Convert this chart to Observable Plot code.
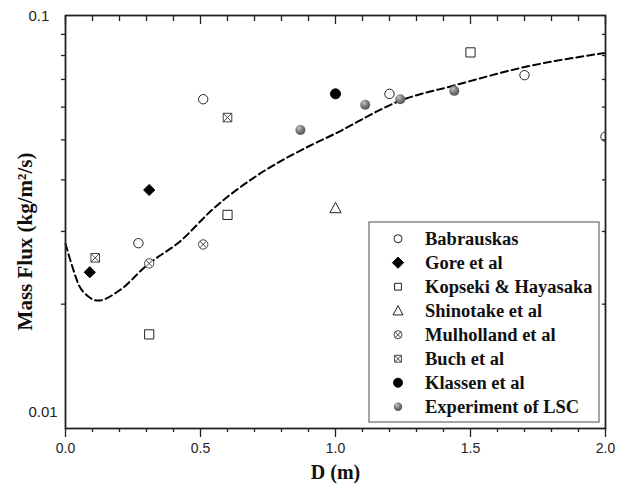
<!DOCTYPE html>
<html><head><meta charset="utf-8">
<script src="https://cdn.jsdelivr.net/npm/d3@7"></script>
<script src="https://cdn.jsdelivr.net/npm/@observablehq/plot@0.6"></script>
<style>body{margin:0;background:#fff}</style>
</head><body><div id="chart"></div>
<script>
// ---- data ----
const seriesNames = ["Babrauskas","Gore et al","Kopseki & Hayasaka","Shinotake et al","Mulholland et al","Buch et al","Klassen et al","Experiment of LSC"];
const babrauskasD = [0.27, 0.51, 1.20, 1.70, 2.00];
const babrauskasM = [0.0281, 0.0627, 0.0646, 0.0717, 0.0509];
const goreD = [0.09, 0.31];
const goreM = [0.0239, 0.0378];
const kopsekiD = [0.31, 0.60, 1.50];
const kopsekiM = [0.0169, 0.0329, 0.0814];
const shinotakeD = [1.00];
const shinotakeM = [0.0342];
const mulhollandD = [0.31, 0.51];
const mulhollandM = [0.0251, 0.0279];
const buchD = [0.11, 0.60];
const buchM = [0.0259, 0.0566];
const klassenD = [1.00];
const klassenM = [0.0646];
const lscD = [0.87, 1.11, 1.24, 1.44];
const lscM = [0.0528, 0.0608, 0.0627, 0.0657];
const modelD = [0.0, 0.025, 0.05, 0.08, 0.12, 0.2, 0.3, 0.43, 0.54, 0.72, 0.87, 1.0, 1.24, 1.44, 1.7, 2.0];
const modelM = [0.0280, 0.0247, 0.0222, 0.0210, 0.0204, 0.0216, 0.0248, 0.0286, 0.0337, 0.0414, 0.0471, 0.0518, 0.0622, 0.0677, 0.0750, 0.0812];
const xMajorTicks = [0, 0.5, 1.0, 1.5, 2.0];
const xMinorTicks = [0.1,0.2,0.3,0.4,0.6,0.7,0.8,0.9,1.1,1.2,1.3,1.4,1.6,1.7,1.8,1.9];
const yMinorTicks = [0.02,0.03,0.04,0.05,0.06,0.07,0.08,0.09];
const yTopLabel = [0.1];
const yBottomLabel = [0.01];
const xTitle = "D (m)";
const yTitle = "Mass Flux (kg/m\u00B2/s)";

// ---- symbols ----
const R = s => Math.sqrt(s / Math.PI);
const sym = {
  circle: {draw(c, s){const r=R(s); c.moveTo(r,0); c.arc(0,0,r,0,2*Math.PI);}},
  diamond: {draw(c, s){const r=R(s); c.moveTo(0,-r); c.lineTo(r,0); c.lineTo(0,r); c.lineTo(-r,0); c.closePath();}},
  square: {draw(c, s){const r=R(s); c.rect(-r,-r,2*r,2*r);}},
  triangle: {draw(c, s){const r=R(s); c.moveTo(0,-r); c.lineTo(r,r*0.85); c.lineTo(-r,r*0.85); c.closePath();}},
  circleX: {draw(c, s){const r=R(s); c.moveTo(r,0); c.arc(0,0,r,0,2*Math.PI); const q=r*Math.SQRT1_2; c.moveTo(-q,-q); c.lineTo(q,q); c.moveTo(q,-q); c.lineTo(-q,q);}},
  squareX: {draw(c, s){const r=R(s); c.rect(-r,-r,2*r,2*r); c.moveTo(-r,-r); c.lineTo(r,r); c.moveTo(r,-r); c.lineTo(-r,r);}}
};

const seriesD = [babrauskasD, goreD, kopsekiD, shinotakeD, mulhollandD, buchD, klassenD, lscD];
const seriesM = [babrauskasM, goreM, kopsekiM, shinotakeM, mulhollandM, buchM, klassenM, lscM];
const styles = [
  {symbol: sym.circle, fill: "white", stroke: "#222", r: 4.7, lr: 4},
  {symbol: sym.diamond, fill: "black", stroke: "black", r: 5.6, lr: 5.6},
  {symbol: sym.square, fill: "white", stroke: "#222", r: 4.6, lr: 3.4},
  {symbol: sym.triangle, fill: "white", stroke: "#222", r: 5.6, lr: 5},
  {symbol: sym.circleX, fill: "white", stroke: "#444", r: 4.7, lr: 4},
  {symbol: sym.squareX, fill: "white", stroke: "#444", r: 4.3, lr: 3.4},
  {symbol: sym.circle, fill: "black", stroke: "black", r: 5, lr: 4.5},
  {symbol: sym.circle, fill: "url(#lscGrad)", stroke: "none", r: 5, lr: 4.2}
];

const model = modelD.map((d, i) => ({D: d, M: modelM[i]}));
const dotMarks = seriesNames.map((name, k) => {
  const rows = seriesD[k].map((d, i) => ({series: name, D: d, M: seriesM[k][i]}));
  const st = styles[k];
  return Plot.dot(rows, {x: "D", y: "M", symbol: st.symbol, r: st.r, fill: st.fill, stroke: st.stroke, strokeWidth: 1, clip: true});
});

const font = "Liberation Sans, Arial, sans-serif";
const serif = "Liberation Serif, Times New Roman, serif";

const chart = Plot.plot({
  width: 629, height: 491,
  marginLeft: 65, marginRight: 24, marginTop: 15, marginBottom: 63,
  style: {fontFamily: font, fontSize: "14px", color: "#222", background: "white"},
  x: {domain: [0, 2]},
  y: {type: "log", domain: [0.01, 0.1]},
  marks: [
    Plot.line(model, {x: "D", y: "M", curve: "monotone-x", stroke: "black", strokeWidth: 2, strokeDasharray: "7,4"}),
    ...dotMarks,
    Plot.frame({stroke: "#222", strokeWidth: 1.8}),
    Plot.axisX({anchor: "bottom", label: null, ticks: xMajorTicks, tickSize: 9, tickPadding: 6, tickFormat: d3.format(".1f"), fontSize: 14, strokeWidth: 1.3}),
    Plot.axisX({anchor: "bottom", label: null, ticks: xMinorTicks, tickSize: 4, tickFormat: () => "", strokeWidth: 1.3}),
    Plot.axisX({anchor: "top", label: null, ticks: xMajorTicks, tickSize: -8, tickFormat: () => "", strokeWidth: 1.3}),
    Plot.axisX({anchor: "top", label: null, ticks: xMinorTicks, tickSize: -5, tickFormat: () => "", strokeWidth: 1.3}),
    Plot.axisY({anchor: "left", label: null, ticks: yMinorTicks, tickSize: 4, tickFormat: () => "", strokeWidth: 1.3}),
    Plot.axisY({anchor: "right", label: null, ticks: yMinorTicks, tickSize: -4, tickFormat: () => "", strokeWidth: 1.3}),
    Plot.axisY({anchor: "left", label: null, ticks: yTopLabel, tickSize: 0, tickPadding: 0, textAnchor: "start", dx: -37, dy: 1, tickFormat: d => String(d), fontSize: 15}),
    Plot.axisY({anchor: "left", label: null, ticks: yBottomLabel, tickSize: 0, tickPadding: 0, textAnchor: "start", dx: -37, dy: -16, tickFormat: d => String(d), fontSize: 15}),
    Plot.text([xTitle], {frameAnchor: "bottom", dy: 50, text: d => d, fontFamily: serif, fontWeight: "bold", fontSize: 20, fill: "#111"})
  ]
});
document.getElementById("chart").appendChild(chart);

const svg = d3.select(chart.tagName.toLowerCase() === "svg" ? chart : chart.querySelector("svg"));

// y-axis title
svg.append("text")
  .attr("transform", "translate(25,241.5) rotate(-90)")
  .attr("text-anchor", "middle").attr("dy", "0.35em")
  .attr("font-family", serif).attr("font-weight", "bold").attr("font-size", 21)
  .attr("fill", "#111").text(yTitle);

// gradient for the LSC sphere markers
const grad = svg.insert("defs", ":first-child").append("radialGradient")
  .attr("id", "lscGrad").attr("cx", "40%").attr("cy", "35%").attr("r", "65%").attr("fx", "35%").attr("fy", "30%");
grad.append("stop").attr("offset", "0%").attr("stop-color", "#c8c8c8");
grad.append("stop").attr("offset", "55%").attr("stop-color", "#7a7a7a");
grad.append("stop").attr("offset", "100%").attr("stop-color", "#555");

// legend
const lg = svg.append("g").attr("class", "legend").attr("text-anchor", "start");
lg.append("rect").attr("x", 369).attr("y", 222).attr("width", 230).attr("height", 200)
  .attr("fill", "white").attr("stroke", "#888").attr("stroke-width", 1.5);
seriesNames.forEach((name, k) => {
  const st = styles[k];
  const y = 238.7 + k * 24;
  lg.append("path").attr("transform", `translate(398,${y})`)
    .attr("d", d3.symbol(st.symbol, Math.PI * st.lr * st.lr)())
    .attr("fill", st.fill).attr("stroke", st.stroke).attr("stroke-width", 1);
  lg.append("text").attr("x", 425).attr("y", y).attr("dy", "0.35em")
    .attr("text-anchor", "start")
    .attr("font-family", serif).attr("font-weight", "bold").attr("font-size", 18.5)
    .attr("fill", "#111").text(name);
});
</script>
</body></html>
